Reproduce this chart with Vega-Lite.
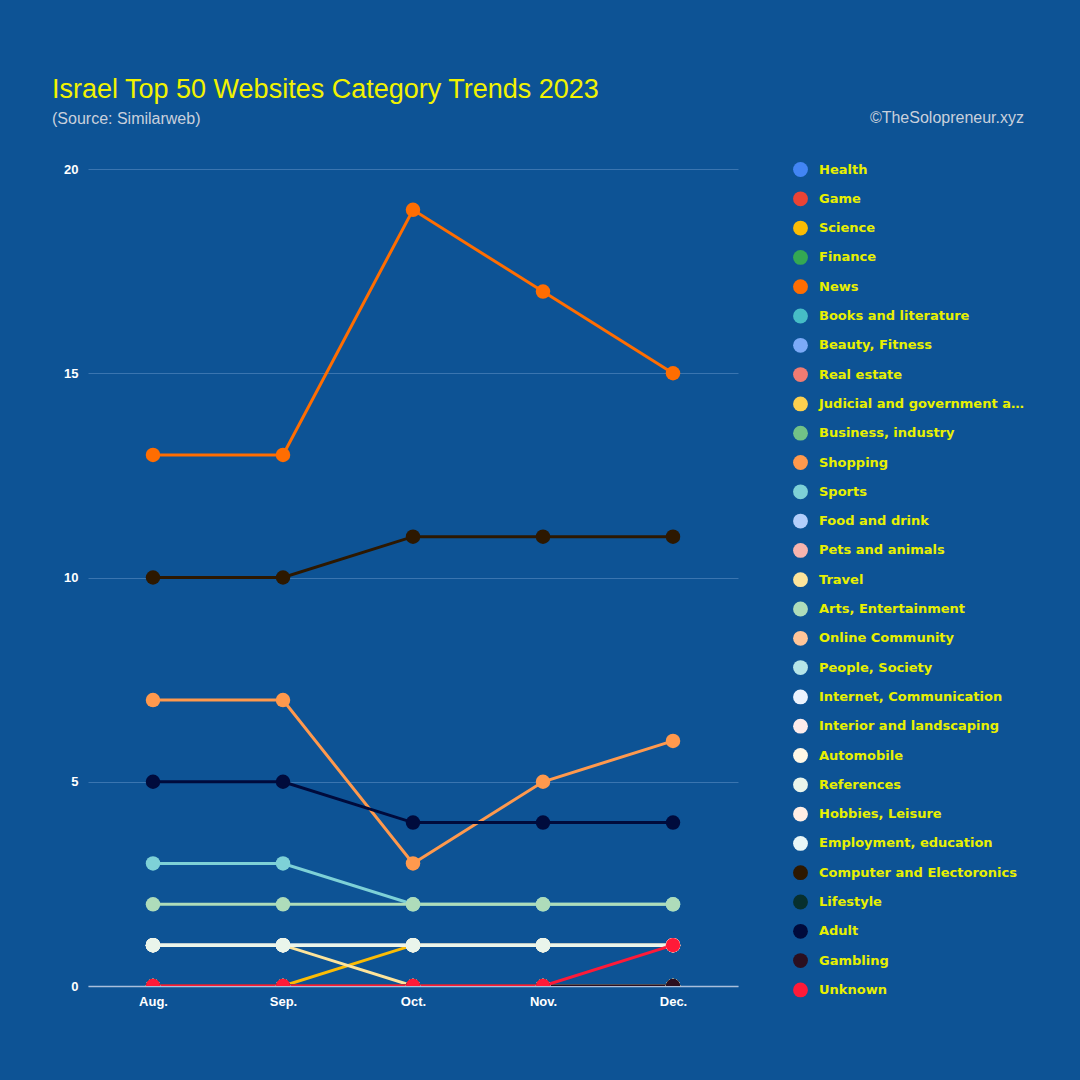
{
  "$schema": "https://vega.github.io/schema/vega-lite/v6.json",
  "autosize": {"type": "none"},
  "width": 650,
  "height": 817,
  "padding": {"left": 88, "top": 169, "right": 342, "bottom": 94},
  "background": "#0d5395",
  "title": {
    "text": "Israel Top 50 Websites Category Trends 2023",
    "subtitle": "(Source: Similarweb)",
    "anchor": "start",
    "frame": "group",
    "dx": -36,
    "offset": -18,
    "font": "Liberation Sans",
    "fontSize": 27,
    "fontWeight": "normal",
    "color": "#f2f200",
    "subtitleFont": "Liberation Sans",
    "subtitleFontSize": 16,
    "subtitleColor": "#c9d0dc",
    "subtitlePadding": 7
  },
  "data": {
    "values": [
      {"month": "Aug.", "category": "Health", "count": 0},
      {"month": "Sep.", "category": "Health", "count": 0},
      {"month": "Oct.", "category": "Health", "count": 0},
      {"month": "Nov.", "category": "Health", "count": 0},
      {"month": "Dec.", "category": "Health", "count": 0},
      {"month": "Aug.", "category": "Game", "count": 0},
      {"month": "Sep.", "category": "Game", "count": 0},
      {"month": "Oct.", "category": "Game", "count": 0},
      {"month": "Nov.", "category": "Game", "count": 0},
      {"month": "Dec.", "category": "Game", "count": 0},
      {"month": "Aug.", "category": "Science", "count": 0},
      {"month": "Sep.", "category": "Science", "count": 0},
      {"month": "Oct.", "category": "Science", "count": 1},
      {"month": "Nov.", "category": "Science", "count": 1},
      {"month": "Dec.", "category": "Science", "count": 1},
      {"month": "Aug.", "category": "Finance", "count": 0},
      {"month": "Sep.", "category": "Finance", "count": 0},
      {"month": "Oct.", "category": "Finance", "count": 0},
      {"month": "Nov.", "category": "Finance", "count": 0},
      {"month": "Dec.", "category": "Finance", "count": 0},
      {"month": "Aug.", "category": "News", "count": 13},
      {"month": "Sep.", "category": "News", "count": 13},
      {"month": "Oct.", "category": "News", "count": 19},
      {"month": "Nov.", "category": "News", "count": 17},
      {"month": "Dec.", "category": "News", "count": 15},
      {"month": "Aug.", "category": "Books and literature", "count": 0},
      {"month": "Sep.", "category": "Books and literature", "count": 0},
      {"month": "Oct.", "category": "Books and literature", "count": 0},
      {"month": "Nov.", "category": "Books and literature", "count": 0},
      {"month": "Dec.", "category": "Books and literature", "count": 0},
      {"month": "Aug.", "category": "Beauty, Fitness", "count": 0},
      {"month": "Sep.", "category": "Beauty, Fitness", "count": 0},
      {"month": "Oct.", "category": "Beauty, Fitness", "count": 0},
      {"month": "Nov.", "category": "Beauty, Fitness", "count": 0},
      {"month": "Dec.", "category": "Beauty, Fitness", "count": 0},
      {"month": "Aug.", "category": "Real estate", "count": 0},
      {"month": "Sep.", "category": "Real estate", "count": 0},
      {"month": "Oct.", "category": "Real estate", "count": 0},
      {"month": "Nov.", "category": "Real estate", "count": 0},
      {"month": "Dec.", "category": "Real estate", "count": 0},
      {"month": "Aug.", "category": "Judicial and government agencies", "count": 0},
      {"month": "Sep.", "category": "Judicial and government agencies", "count": 0},
      {"month": "Oct.", "category": "Judicial and government agencies", "count": 0},
      {"month": "Nov.", "category": "Judicial and government agencies", "count": 0},
      {"month": "Dec.", "category": "Judicial and government agencies", "count": 0},
      {"month": "Aug.", "category": "Business, industry", "count": 0},
      {"month": "Sep.", "category": "Business, industry", "count": 0},
      {"month": "Oct.", "category": "Business, industry", "count": 0},
      {"month": "Nov.", "category": "Business, industry", "count": 0},
      {"month": "Dec.", "category": "Business, industry", "count": 0},
      {"month": "Aug.", "category": "Shopping", "count": 7},
      {"month": "Sep.", "category": "Shopping", "count": 7},
      {"month": "Oct.", "category": "Shopping", "count": 3},
      {"month": "Nov.", "category": "Shopping", "count": 5},
      {"month": "Dec.", "category": "Shopping", "count": 6},
      {"month": "Aug.", "category": "Sports", "count": 3},
      {"month": "Sep.", "category": "Sports", "count": 3},
      {"month": "Oct.", "category": "Sports", "count": 2},
      {"month": "Nov.", "category": "Sports", "count": 2},
      {"month": "Dec.", "category": "Sports", "count": 2},
      {"month": "Aug.", "category": "Food and drink", "count": 0},
      {"month": "Sep.", "category": "Food and drink", "count": 0},
      {"month": "Oct.", "category": "Food and drink", "count": 0},
      {"month": "Nov.", "category": "Food and drink", "count": 0},
      {"month": "Dec.", "category": "Food and drink", "count": 0},
      {"month": "Aug.", "category": "Pets and animals", "count": 0},
      {"month": "Sep.", "category": "Pets and animals", "count": 0},
      {"month": "Oct.", "category": "Pets and animals", "count": 0},
      {"month": "Nov.", "category": "Pets and animals", "count": 0},
      {"month": "Dec.", "category": "Pets and animals", "count": 0},
      {"month": "Aug.", "category": "Travel", "count": 1},
      {"month": "Sep.", "category": "Travel", "count": 1},
      {"month": "Oct.", "category": "Travel", "count": 0},
      {"month": "Nov.", "category": "Travel", "count": 0},
      {"month": "Dec.", "category": "Travel", "count": 0},
      {"month": "Aug.", "category": "Arts, Entertainment", "count": 2},
      {"month": "Sep.", "category": "Arts, Entertainment", "count": 2},
      {"month": "Oct.", "category": "Arts, Entertainment", "count": 2},
      {"month": "Nov.", "category": "Arts, Entertainment", "count": 2},
      {"month": "Dec.", "category": "Arts, Entertainment", "count": 2},
      {"month": "Aug.", "category": "Online Community", "count": 0},
      {"month": "Sep.", "category": "Online Community", "count": 0},
      {"month": "Oct.", "category": "Online Community", "count": 0},
      {"month": "Nov.", "category": "Online Community", "count": 0},
      {"month": "Dec.", "category": "Online Community", "count": 0},
      {"month": "Aug.", "category": "People, Society", "count": 0},
      {"month": "Sep.", "category": "People, Society", "count": 0},
      {"month": "Oct.", "category": "People, Society", "count": 0},
      {"month": "Nov.", "category": "People, Society", "count": 0},
      {"month": "Dec.", "category": "People, Society", "count": 0},
      {"month": "Aug.", "category": "Internet, Communication", "count": 1},
      {"month": "Sep.", "category": "Internet, Communication", "count": 1},
      {"month": "Oct.", "category": "Internet, Communication", "count": 1},
      {"month": "Nov.", "category": "Internet, Communication", "count": 1},
      {"month": "Dec.", "category": "Internet, Communication", "count": 1},
      {"month": "Aug.", "category": "Interior and landscaping", "count": 1},
      {"month": "Sep.", "category": "Interior and landscaping", "count": 1},
      {"month": "Oct.", "category": "Interior and landscaping", "count": 1},
      {"month": "Nov.", "category": "Interior and landscaping", "count": 1},
      {"month": "Dec.", "category": "Interior and landscaping", "count": 1},
      {"month": "Aug.", "category": "Automobile", "count": 1},
      {"month": "Sep.", "category": "Automobile", "count": 1},
      {"month": "Oct.", "category": "Automobile", "count": 1},
      {"month": "Nov.", "category": "Automobile", "count": 1},
      {"month": "Dec.", "category": "Automobile", "count": 1},
      {"month": "Aug.", "category": "References", "count": 1},
      {"month": "Sep.", "category": "References", "count": 1},
      {"month": "Oct.", "category": "References", "count": 1},
      {"month": "Nov.", "category": "References", "count": 1},
      {"month": "Dec.", "category": "References", "count": 1},
      {"month": "Aug.", "category": "Hobbies, Leisure", "count": 0},
      {"month": "Sep.", "category": "Hobbies, Leisure", "count": 0},
      {"month": "Oct.", "category": "Hobbies, Leisure", "count": 0},
      {"month": "Nov.", "category": "Hobbies, Leisure", "count": 0},
      {"month": "Dec.", "category": "Hobbies, Leisure", "count": 0},
      {"month": "Aug.", "category": "Employment, education", "count": 0},
      {"month": "Sep.", "category": "Employment, education", "count": 0},
      {"month": "Oct.", "category": "Employment, education", "count": 0},
      {"month": "Nov.", "category": "Employment, education", "count": 0},
      {"month": "Dec.", "category": "Employment, education", "count": 0},
      {"month": "Aug.", "category": "Computer and Electoronics", "count": 10},
      {"month": "Sep.", "category": "Computer and Electoronics", "count": 10},
      {"month": "Oct.", "category": "Computer and Electoronics", "count": 11},
      {"month": "Nov.", "category": "Computer and Electoronics", "count": 11},
      {"month": "Dec.", "category": "Computer and Electoronics", "count": 11},
      {"month": "Aug.", "category": "Lifestyle", "count": 0},
      {"month": "Sep.", "category": "Lifestyle", "count": 0},
      {"month": "Oct.", "category": "Lifestyle", "count": 0},
      {"month": "Nov.", "category": "Lifestyle", "count": 0},
      {"month": "Dec.", "category": "Lifestyle", "count": 0},
      {"month": "Aug.", "category": "Adult", "count": 5},
      {"month": "Sep.", "category": "Adult", "count": 5},
      {"month": "Oct.", "category": "Adult", "count": 4},
      {"month": "Nov.", "category": "Adult", "count": 4},
      {"month": "Dec.", "category": "Adult", "count": 4},
      {"month": "Aug.", "category": "Gambling", "count": 0},
      {"month": "Sep.", "category": "Gambling", "count": 0},
      {"month": "Oct.", "category": "Gambling", "count": 0},
      {"month": "Nov.", "category": "Gambling", "count": 0},
      {"month": "Dec.", "category": "Gambling", "count": 0},
      {"month": "Aug.", "category": "Unknown", "count": 0},
      {"month": "Sep.", "category": "Unknown", "count": 0},
      {"month": "Oct.", "category": "Unknown", "count": 0},
      {"month": "Nov.", "category": "Unknown", "count": 0},
      {"month": "Dec.", "category": "Unknown", "count": 1}
    ]
  },
  "mark": {
    "type": "line",
    "strokeWidth": 3,
    "clip": true,
    "point": {"filled": true, "size": 210, "opacity": 1, "clip": true}
  },
  "encoding": {
    "x": {
      "field": "month",
      "type": "ordinal",
      "sort": ["Aug.", "Sep.", "Oct.", "Nov.", "Dec."],
      "scale": {"type": "point", "padding": 0.5},
      "axis": {
        "title": null,
        "labelAngle": 0,
        "labelColor": "#ffffff",
        "labelFont": "Liberation Sans",
        "labelFontSize": 13,
        "labelFontWeight": "bold",
        "labelPadding": 9,
        "ticks": false,
        "domain": true,
        "domainColor": "#a9bfdc",
        "domainWidth": 1.5,
        "grid": false
      }
    },
    "y": {
      "field": "count",
      "type": "quantitative",
      "scale": {"domain": [0, 20], "nice": false},
      "axis": {
        "title": null,
        "values": [0, 5, 10, 15, 20],
        "labelColor": "#ffffff",
        "labelFont": "Liberation Sans",
        "labelFontSize": 13,
        "labelFontWeight": "bold",
        "labelPadding": 10,
        "ticks": false,
        "domain": false,
        "grid": true,
        "gridColor": "#3a75b0",
        "gridWidth": 1.2
      }
    },
    "color": {
      "field": "category",
      "type": "nominal",
      "scale": {
        "domain": ["Health", "Game", "Science", "Finance", "News", "Books and literature", "Beauty, Fitness", "Real estate", "Judicial and government agencies", "Business, industry", "Shopping", "Sports", "Food and drink", "Pets and animals", "Travel", "Arts, Entertainment", "Online Community", "People, Society", "Internet, Communication", "Interior and landscaping", "Automobile", "References", "Hobbies, Leisure", "Employment, education", "Computer and Electoronics", "Lifestyle", "Adult", "Gambling", "Unknown"],
        "range": ["#4285f4", "#ea4335", "#fbbc04", "#34a853", "#ff6d01", "#46bdc6", "#7baaf7", "#f07b72", "#fcd04f", "#71c287", "#ff994d", "#7ed1d7", "#b3cefb", "#f7b4ae", "#fde49b", "#aedcba", "#ffc599", "#b5e5e8", "#ecf3fe", "#fdeceb", "#fff8e6", "#eaf5eb", "#ffeee5", "#e8f6f7", "#2d1800", "#07302e", "#000b3c", "#2b0f20", "#ff1a38"]
      },
      "legend": {
        "orient": "none",
        "legendX": 705,
        "legendY": -59,
        "title": "©TheSolopreneur.xyz",
        "titleAnchor": "end",
        "titleFont": "Liberation Sans",
        "titleFontSize": 16,
        "titleFontWeight": "normal",
        "titleColor": "#c9d0dc",
        "titlePadding": 36,
        "titleLimit": 400,
        "symbolType": "circle",
        "symbolSize": 220,
        "symbolStrokeWidth": 0,
        "labelFont": "DejaVu Sans",
        "labelFontSize": 13,
        "labelFontWeight": "bold",
        "labelColor": "#e8f000",
        "labelOffset": 11,
        "labelLimit": 210,
        "rowPadding": 14.3,
        "symbolLimit": 50,
        "encode": {
          "symbols": {"update": {"fill": {"scale": "color", "field": "value"}, "opacity": {"value": 1}}}
        }
      }
    }
  },
  "config": {
    "view": {"stroke": null}
  }
}
